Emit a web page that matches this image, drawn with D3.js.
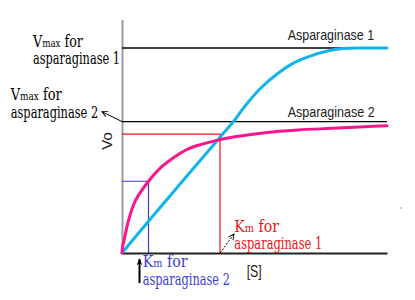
<!DOCTYPE html>
<html>
<head>
<meta charset="utf-8">
<script src="https://cdn.jsdelivr.net/npm/d3@7"></script>
<style>
  body { margin: 0; background: #fff; }
  svg { display: block; }
  .serif { font-family: "DejaVu Serif", "Liberation Serif", serif; }
  .sans { font-family: "Liberation Sans", Arial, sans-serif; }
</style>
</head>
<body>
<svg id="chart"></svg>
<script>
const width = 415, height = 300;

// [S] and v0
const s1 = [0, 1.0, 3.7, 4.2, 4.6, 5.2, 5.85, 6.45, 7.1, 7.75, 8.35, 9.0, 10];
const v1 = [0, 1.55, 5.65, 6.4, 7.1, 8.0, 8.73, 9.25, 9.6, 9.85, 9.97, 10, 10];
const s2 = [0, 0.03, 0.09, 0.24, 0.49, 1.0, 1.5, 2.0, 2.5, 3.0, 3.5, 4.26, 5.4, 6.64, 7.91, 9.17, 10];
const v2 = [0, 0.34, 0.68, 1.56, 2.51, 3.5, 4.21, 4.7, 5.08, 5.3, 5.47, 5.67, 5.87, 6.0, 6.08, 6.16, 6.21];

const enzymes = ["Asparaginase 1", "Asparaginase 2"];
const curveColors = ["#10b4ec", "#f8168c"];
const vmax = [10, 6.41];
const km = [3.7, 1.0];
const kmLevel = [5.8, 3.5];
const kmColors = ["#ee1111", "#3c3cd4"];

const svg = d3.select("#chart")
    .attr("width", width)
    .attr("height", height);

const x = d3.scaleLinear().domain([0, 10]).range([122, 387]);
const y = d3.scaleLinear().domain([0, 10]).range([253, 48]);

// arrow heads
const defs = svg.append("defs");
defs.append("marker")
    .attr("id", "open")
    .attr("viewBox", "0 0 10 10")
    .attr("refX", 9).attr("refY", 5)
    .attr("markerWidth", 7).attr("markerHeight", 7)
    .attr("markerUnits", "userSpaceOnUse")
    .attr("orient", "auto")
    .append("path")
    .attr("d", "M1,1L9,5L1,9")
    .attr("fill", "none")
    .attr("stroke", "#000")
    .attr("stroke-width", 1.3);
defs.append("marker")
    .attr("id", "solid")
    .attr("viewBox", "0 0 10 10")
    .attr("refX", 9).attr("refY", 5)
    .attr("markerWidth", 9).attr("markerHeight", 7)
    .attr("markerUnits", "userSpaceOnUse")
    .attr("orient", "auto")
    .append("path")
    .attr("d", "M0,1L10,5L0,9L3,5Z")
    .attr("fill", "#000");

// axes, no ticks
const yAxisScale = y.copy().domain([0, 11.4]).range([y(0), y(11.4)]);
svg.append("g")
    .attr("transform", `translate(${x(0)},0)`)
    .call(d3.axisLeft(yAxisScale).ticks(0).tickSizeOuter(0))
    .select(".domain")
    .attr("stroke", "#9a9a9a")
    .attr("stroke-width", 2);

// Vmax lines
svg.selectAll(".vmax")
    .data(vmax)
    .enter()
    .append("line")
    .attr("x1", x(0))
    .attr("x2", x(10))
    .attr("y1", d => y(d))
    .attr("y2", d => y(d))
    .attr("stroke", "#000")
    .attr("stroke-width", 1.3);

// Km guides
km.forEach((k, i) => {
    svg.append("path")
        .attr("d", `M${x(0)},${y(kmLevel[i])}H${x(k)}V${y(0)}`)
        .attr("fill", "none")
        .attr("stroke", kmColors[i])
        .attr("stroke-width", 1.2);
});

svg.append("g")
    .attr("transform", `translate(0,${y(0)})`)
    .call(d3.axisBottom(x).ticks(0).tickSizeOuter(0))
    .select(".domain")
    .attr("stroke", "#222")
    .attr("stroke-width", 2);

// the two curves
const line = d3.line()
    .x(d => x(d[0]))
    .y(d => y(d[1]))
    .curve(d3.curveCatmullRom.alpha(0.5));

[[s1, v1], [s2, v2]].forEach((sv, i) => {
    svg.append("path")
        .datum(d3.zip(sv[0], sv[1]))
        .attr("d", line)
        .attr("fill", "none")
        .attr("stroke", curveColors[i])
        .attr("stroke-width", 3)
        .attr("stroke-linecap", "round");
});

// text squeezed to the width it has in the picture
function label(px, py, parts, w, cls, color) {
    const t = svg.append("text")
        .attr("class", cls)
        .attr("fill", color);
    parts.forEach(p => t.append("tspan").attr("font-size", p[1]).text(p[0]));
    const nat = t.node().getComputedTextLength();
    t.attr("transform", `translate(${px},${py}) scale(${w / nat},1)`);
    return t;
}

label(287.7, 39.5, [[enzymes[0], 14]], 86.5, "sans", "#222");
label(287.7, 116.5, [[enzymes[1], 14]], 87, "sans", "#222");
label(246.7, 277, [["[S]", 16]], 15, "sans", "#222");

svg.append("text")
    .attr("class", "sans")
    .attr("transform", "translate(112,141) rotate(-90)")
    .attr("text-anchor", "middle")
    .attr("font-size", 15)
    .attr("fill", "#222")
    .text("Vo");

label(33, 46.5, [["V", 16], ["max", 11], [" for", 16]], 50, "serif", "#000");
label(33, 64, [["asparaginase 1", 16]], 87, "serif", "#000");
label(10.7, 100, [["V", 16], ["max", 11], [" for", 16]], 51, "serif", "#000");
label(10.7, 118.3, [["asparaginase 2", 16]], 87.6, "serif", "#000");

label(234.3, 231.5, [["K", 16], ["m", 11], [" for", 16]], 44.7, "serif", kmColors[0]);
label(234.3, 249.3, [["asparaginase 1", 16]], 88, "serif", kmColors[0]);
label(142.7, 266.7, [["K", 16], ["m", 11], [" for", 16]], 44.7, "serif", kmColors[1]);
label(142.7, 285, [["asparaginase 2", 16]], 87.3, "serif", kmColors[1]);

// pointer arrows
svg.append("line")
    .attr("x1", x(0)).attr("y1", y(vmax[1]))
    .attr("x2", x(0) - 20).attr("y2", y(vmax[1]) - 10)
    .attr("stroke", "#000")
    .attr("stroke-width", 1)
    .attr("marker-end", "url(#open)");

svg.append("line")
    .attr("x1", x(km[0])).attr("y1", y(0))
    .attr("x2", x(km[0]) + 14).attr("y2", y(0) - 19)
    .attr("stroke", "#000")
    .attr("stroke-width", 1)
    .attr("stroke-dasharray", "2,1.5")
    .attr("marker-end", "url(#open)");

svg.append("line")
    .attr("x1", x(km[1]) - 9).attr("y1", y(0) + 30)
    .attr("x2", x(km[1]) - 9).attr("y2", y(0) + 6)
    .attr("stroke", "#000")
    .attr("stroke-width", 2)
    .attr("marker-end", "url(#solid)");

// stray dot in the picture
svg.append("rect")
    .attr("x", 400.5).attr("y", 207.5)
    .attr("width", 1).attr("height", 1)
    .attr("fill", "#333");
</script>
</body>
</html>
